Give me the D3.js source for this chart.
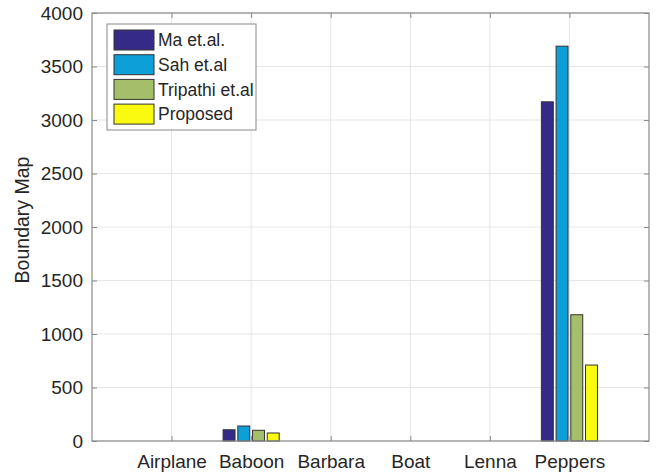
<!DOCTYPE html>
<html><head><meta charset="utf-8">
<script src="https://cdn.jsdelivr.net/npm/d3@7"></script>
<style>body{margin:0;background:#fff}svg text{font-family:"Liberation Sans",Arial,sans-serif;fill:#262626}</style>
</head><body><svg id="c" width="657" height="475"></svg>
<script>
const categories = ["Airplane","Baboon","Barbara","Boat","Lenna","Peppers"];
const seriesNames = ["Ma et.al.","Sah et.al","Tripathi et.al","Proposed"];
const maVals = [0,105,0,0,0,3170];
const sahVals = [0,140,0,0,0,3690];
const tripathiVals = [0,100,0,0,0,1180];
const proposedVals = [0,75,0,0,0,710];
const yTicks = [0,500,1000,1500,2000,2500,3000,3500,4000];
const colors = ["#352a87","#0d9fd8","#a5be6a","#f9fa0f"];
const series = [maVals,sahVals,tripathiVals,proposedVals];

const svg = d3.select("#c");
const L=92,R=649,T=13,B=441;
const x = d3.scaleLinear().domain([0,7]).range([L,R]);
const y = d3.scaleLinear().domain([0,4000]).range([B,T]);

// grid
svg.append("g").selectAll("line").data(yTicks).join("line")
  .attr("x1",L).attr("x2",R).attr("y1",d=>y(d)).attr("y2",d=>y(d))
  .attr("stroke","#e6e6e6").attr("stroke-width",1);
svg.append("g").selectAll("line").data(categories).join("line")
  .attr("x1",(d,i)=>x(i+1)).attr("x2",(d,i)=>x(i+1)).attr("y1",T).attr("y2",B)
  .attr("stroke","#e6e6e6").attr("stroke-width",1);

// bars
const pitch = 0.185, bw = 0.15;
series.forEach((vals,s)=>{
  svg.append("g").selectAll("rect").data(vals).join("rect")
    .attr("x",(d,i)=>x(i+1+(s-1.5)*pitch-bw/2))
    .attr("width",x(bw)-x(0))
    .attr("y",d=>y(d))
    .attr("height",d=>B-y(d))
    .attr("fill",colors[s])
    .attr("stroke","#333").attr("stroke-width",1)
    .style("display",d=>d>0?null:"none");
});

// axes box
const axisCol="#8a8a8a";
svg.append("rect").attr("x",L).attr("y",T).attr("width",R-L).attr("height",B-T)
  .attr("fill","none").attr("stroke",axisCol).attr("stroke-width",1.2);
const yAxisL = d3.axisLeft(y).tickValues(yTicks).tickFormat(d3.format("d")).tickSizeInner(-5).tickSizeOuter(0).tickPadding(9);
const gy = svg.append("g").attr("transform",`translate(${L},0)`).call(yAxisL);
gy.select(".domain").remove();
gy.selectAll("line").attr("stroke",axisCol);
gy.selectAll("text").style("font-size","19px").attr("fill","#262626");
const gyr = svg.append("g").attr("transform",`translate(${R},0)`).call(d3.axisRight(y).tickValues(yTicks).tickSizeInner(-5).tickSizeOuter(0).tickFormat(""));
gyr.select(".domain").remove(); gyr.selectAll("line").attr("stroke",axisCol);
const xAxisB = d3.axisBottom(x).tickValues(d3.range(1,7)).tickFormat(d=>categories[d-1]).tickSizeInner(-5).tickSizeOuter(0).tickPadding(14);
const gx = svg.append("g").attr("transform",`translate(0,${B})`).call(xAxisB);
gx.select(".domain").remove(); gx.selectAll("line").attr("stroke",axisCol);
gx.selectAll("text").style("font-size","19px").attr("fill","#262626");
const gxt = svg.append("g").attr("transform",`translate(0,${T})`).call(d3.axisTop(x).tickValues(d3.range(1,7)).tickSizeInner(-5).tickSizeOuter(0).tickFormat(""));
gxt.select(".domain").remove(); gxt.selectAll("line").attr("stroke",axisCol);

// y label
svg.append("text").attr("transform","translate(29,220) rotate(-90)")
  .attr("text-anchor","middle").style("font-size","19.5px").text("Boundary Map");

// legend
const lg = svg.append("g");
lg.append("rect").attr("x",107).attr("y",24).attr("width",149).attr("height",106)
  .attr("fill","#fff").attr("stroke","#8a8a8a").attr("stroke-width",1);
seriesNames.forEach((n,i)=>{
  const cy = 40 + i*24.7;
  lg.append("rect").attr("x",114).attr("y",cy-10).attr("width",40).attr("height",20)
    .attr("fill",colors[i]).attr("stroke","#333").attr("stroke-width",1);
  lg.append("text").attr("x",158).attr("y",cy+6.3).style("font-size","17.5px").text(n);
});
</script></body></html>
